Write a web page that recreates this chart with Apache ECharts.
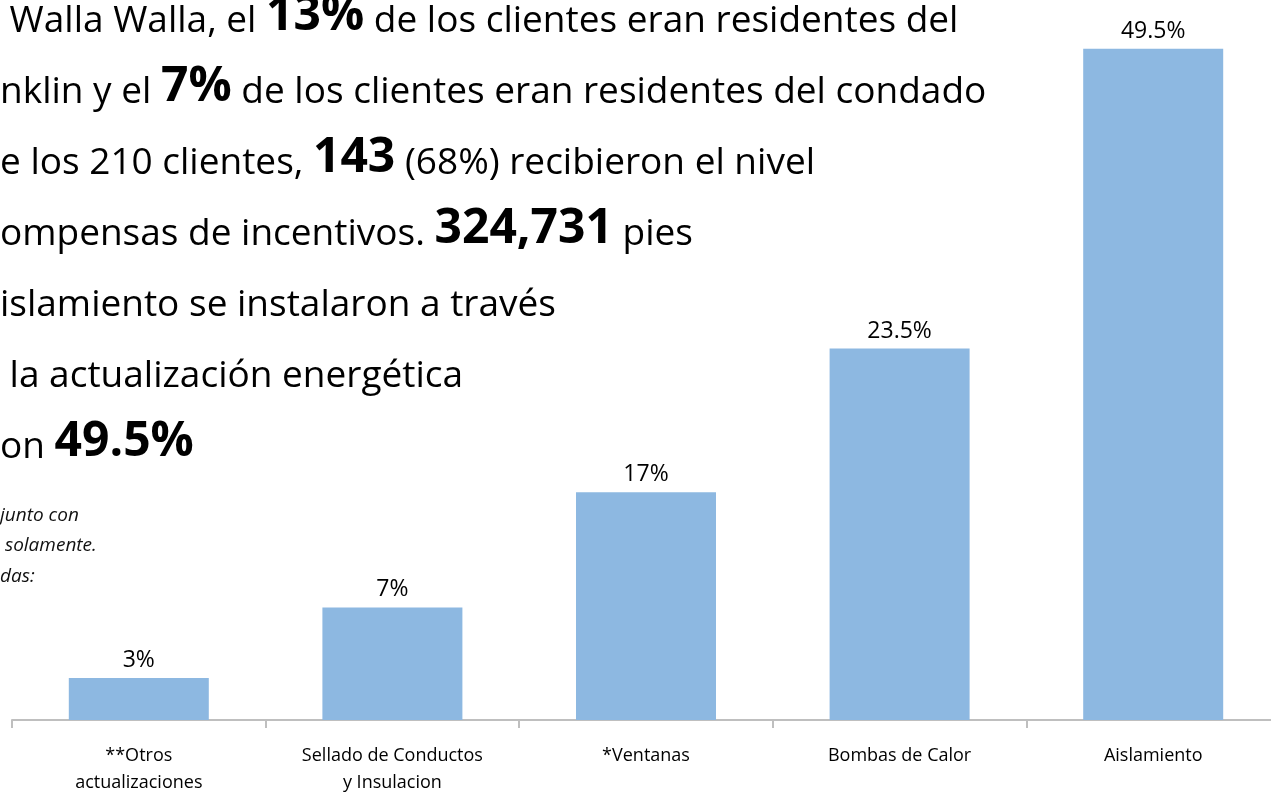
<!DOCTYPE html>
<html>
<head>
<meta charset="utf-8">
<script src="https://cdn.jsdelivr.net/npm/echarts@6/dist/echarts.min.js"></script>
<style>
html,body{margin:0;padding:0;background:#fff;}
#chart{width:1271px;height:792px;}
</style>
</head>
<body>
<div id="chart"></div>
<script>
// Categories (x axis)
const categories = ['**Otros\nactualizaciones', 'Sellado de Conductos\ny Insulacion', '*Ventanas', 'Bombas de Calor', 'Aislamiento'];
// Bar heights as drawn in the picture (axis units)
const barValues = [3.1, 8.3, 16.8, 27.4, 49.5];
// Labels printed above the bars
const barLabels = ['3%', '7%', '17%', '23.5%', '49.5%'];

// Overlaid paragraph (partially cut at the left edge of the slide)
const paragraphLines = [
  [['r', ' Walla Walla, el '], ['b', '13%'], ['r', ' de los clientes eran residentes del']],
  [['r', 'nklin y el '], ['b', '7%'], ['r', ' de los clientes eran residentes del condado']],
  [['r', 'e los 210 clientes, '], ['b', '143'], ['r', ' (68%) recibieron el nivel']],
  [['r', 'ompensas de incentivos. '], ['b', '324,731'], ['r', ' pies']],
  [['r', 'islamiento se instalaron a través']],
  [['r', ' la actualización energética']],
  [['r', 'on '], ['b', '49.5%']]
];
const noteLines = ['junto con', ' solamente.', 'das:'];

const FONT = '"Open Sans", Lato, sans-serif';
const chart = echarts.init(document.getElementById('chart'));

const graphics = [];
paragraphLines.forEach((segs, i) => {
  graphics.push({
    type: 'text',
    x: 0,
    y: 40 + i * 71,
    style: {
      text: segs.map(s => '{' + s[0] + '|' + s[1] + '}').join(''),
      verticalAlign: 'bottom',
      rich: {
        r: { fontFamily: FONT, fontSize: 37, color: '#000', verticalAlign: 'bottom', lineHeight: 60 },
        b: { fontFamily: FONT, fontSize: 48, fontWeight: 'bold', color: '#000', verticalAlign: 'bottom', lineHeight: 60 }
      }
    }
  });
});
noteLines.forEach((t, i) => {
  graphics.push({
    type: 'text',
    x: 0,
    y: 525 + i * 30.5,
    style: {
      text: t,
      font: 'italic 19px ' + FONT,
      fill: '#111',
      verticalAlign: 'bottom'
    }
  });
});

chart.setOption({
  animation: false,
  backgroundColor: '#fff',
  grid: { left: 12, width: 1268, top: 42, bottom: 72, containLabel: false, outerBoundsMode: 'none' },
  xAxis: {
    type: 'category',
    data: categories,
    axisLine: { lineStyle: { color: '#bfbfbf', width: 2 } },
    axisTick: { show: true, length: 8, lineStyle: { color: '#bfbfbf', width: 2 } },
    axisLabel: { color: '#000', fontFamily: FONT, fontSize: 18, lineHeight: 27, margin: 22, interval: 0 }
  },
  yAxis: {
    type: 'value',
    min: 0,
    max: 50,
    show: false,
    splitLine: { show: false }
  },
  series: [{
    type: 'bar',
    data: barValues,
    barWidth: 140,
    itemStyle: { color: '#8db8e1' },
    label: {
      show: true,
      position: 'top',
      distance: 6,
      color: '#000',
      fontFamily: FONT,
      fontSize: 23,
      formatter: p => barLabels[p.dataIndex]
    }
  }],
  graphic: graphics
});
</script>
</body>
</html>
